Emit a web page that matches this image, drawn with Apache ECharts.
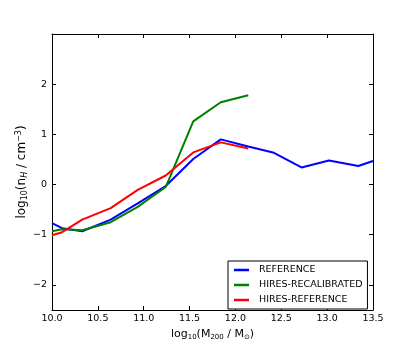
<!DOCTYPE html>
<html>
<head>
<meta charset="utf-8">
<script src="https://cdn.jsdelivr.net/npm/echarts@6/dist/echarts.min.js"></script>
<style>
  html, body { margin: 0; padding: 0; background: #fff; }
  #chart { width: 415px; height: 346px; }
</style>
</head>
<body>
<div id="chart"></div>
<script>
// halo mass bins (log10 M200 / Msun)
const massRef = [10.0, 10.11, 10.33, 10.64, 10.93, 11.24, 11.54, 11.84, 12.14, 12.41, 12.72, 13.02, 13.34, 13.5];
const massHires = [10.0, 10.11, 10.33, 10.64, 10.93, 11.24, 11.54, 11.84, 12.14];

// log10(nH / cm^-3)
const reference = [-0.77, -0.87, -0.93, -0.70, -0.38, -0.03, 0.51, 0.90, 0.76, 0.64, 0.34, 0.48, 0.37, 0.47];
const hiresRecalibrated = [-0.93, -0.89, -0.91, -0.75, -0.45, -0.05, 1.26, 1.64, 1.78];
const hiresReference = [-1.01, -0.95, -0.70, -0.47, -0.11, 0.18, 0.64, 0.84, 0.72];

const xTicks = [10.0, 10.5, 11.0, 11.5, 12.0, 12.5, 13.0, 13.5];
const yTicks = [-2, -1, 0, 1, 2];

const font = 'DejaVu Sans';

function pairs(xs, ys) {
  return xs.map((x, i) => [x, ys[i]]);
}

const chart = echarts.init(document.getElementById('chart'), null, { renderer: 'canvas' });

function richStyles(big, small) {
  return {
    a: { fontFamily: font, fontSize: big, color: '#000', lineHeight: 14 },
    s: { fontFamily: font, fontSize: small, color: '#000', lineHeight: 14, verticalAlign: 'bottom' },
    i: { fontFamily: font, fontSize: small, fontStyle: 'italic', color: '#000', lineHeight: 14, verticalAlign: 'bottom' },
    p: { fontFamily: font, fontSize: small, color: '#000', lineHeight: 14, verticalAlign: 'top' }
  };
}

const option = {
  animation: false,
  backgroundColor: '#fff',
  grid: { left: 52, right: 42, top: 34, bottom: 36 },
  legend: {
    orient: 'vertical',
    left: 228,
    top: 261,
    width: 141,
    padding: [3, 5, 3, 6],
    itemGap: 3,
    itemWidth: 15,
    itemHeight: 2.5,
    icon: 'rect',
    borderColor: '#000',
    borderWidth: 1,
    backgroundColor: '#fff',
    textStyle: { fontFamily: font, fontSize: 9.5, color: '#000', padding: [0, 0, 0, 5], lineHeight: 12 },
    data: ['REFERENCE', 'HIRES-RECALIBRATED', 'HIRES-REFERENCE']
  },
  xAxis: [
    {
      type: 'value',
      min: 10,
      max: 13.5,
      interval: 0.5,
      name: '{a|log}{s|10}{a|(M}{s|200}{a| / M}{s|⊙}{a|)}',
      nameLocation: 'middle',
      nameGap: 17,
      nameMoveOverlap: false,
      nameTextStyle: { rich: richStyles(11, 7), verticalAlign: 'top' },
      axisLine: { show: true, onZero: false, lineStyle: { color: '#000', width: 1 } },
      axisTick: { show: true, inside: true, length: 4, lineStyle: { color: '#000' } },
      axisLabel: {
        fontFamily: font, fontSize: 9.5, color: '#000', margin: 4,
        formatter: v => v.toFixed(1)
      },
      splitLine: { show: false }
    },
    {
      type: 'value',
      position: 'top',
      min: 10,
      max: 13.5,
      interval: 0.5,
      axisLine: { show: true, onZero: false, lineStyle: { color: '#000', width: 1 } },
      axisTick: { show: true, inside: true, length: 4, lineStyle: { color: '#000' } },
      axisLabel: { show: false },
      splitLine: { show: false }
    }
  ],
  yAxis: [
    {
      type: 'value',
      min: -2.5,
      max: 3,
      name: '{a|log}{s|10}{a|(n}{i|H}{a| / cm}{p|−3}{a|)}',
      nameLocation: 'middle',
      nameGap: 23,
      nameMoveOverlap: false,
      nameRotate: 90,
      nameTextStyle: { rich: richStyles(12, 8) },
      axisLine: { show: true, onZero: false, lineStyle: { color: '#000', width: 1 } },
      axisTick: { show: true, inside: true, length: 4, lineStyle: { color: '#000' }, customValues: yTicks },
      axisLabel: {
        fontFamily: font, fontSize: 9.5, color: '#000', margin: 5,
        customValues: yTicks,
        formatter: v => (v < 0 ? '\u2212' + Math.abs(v) : String(v))
      },
      splitLine: { show: false }
    },
    {
      type: 'value',
      position: 'right',
      min: -2.5,
      max: 3,
      axisLine: { show: true, onZero: false, lineStyle: { color: '#000', width: 1 } },
      axisTick: { show: true, inside: true, length: 4, lineStyle: { color: '#000' }, customValues: yTicks },
      axisLabel: { show: false },
      splitLine: { show: false }
    }
  ],
  series: [
    {
      name: 'REFERENCE',
      type: 'line',
      data: pairs(massRef, reference),
      showSymbol: false,
      color: '#0000ff',
      lineStyle: { width: 2, color: '#0000ff' }
    },
    {
      name: 'HIRES-RECALIBRATED',
      type: 'line',
      data: pairs(massHires, hiresRecalibrated),
      showSymbol: false,
      color: '#008000',
      lineStyle: { width: 2, color: '#008000' }
    },
    {
      name: 'HIRES-REFERENCE',
      type: 'line',
      data: pairs(massHires, hiresReference),
      showSymbol: false,
      color: '#ff0000',
      lineStyle: { width: 2, color: '#ff0000' }
    }
  ]
};

chart.setOption(option);
</script>
</body>
</html>
